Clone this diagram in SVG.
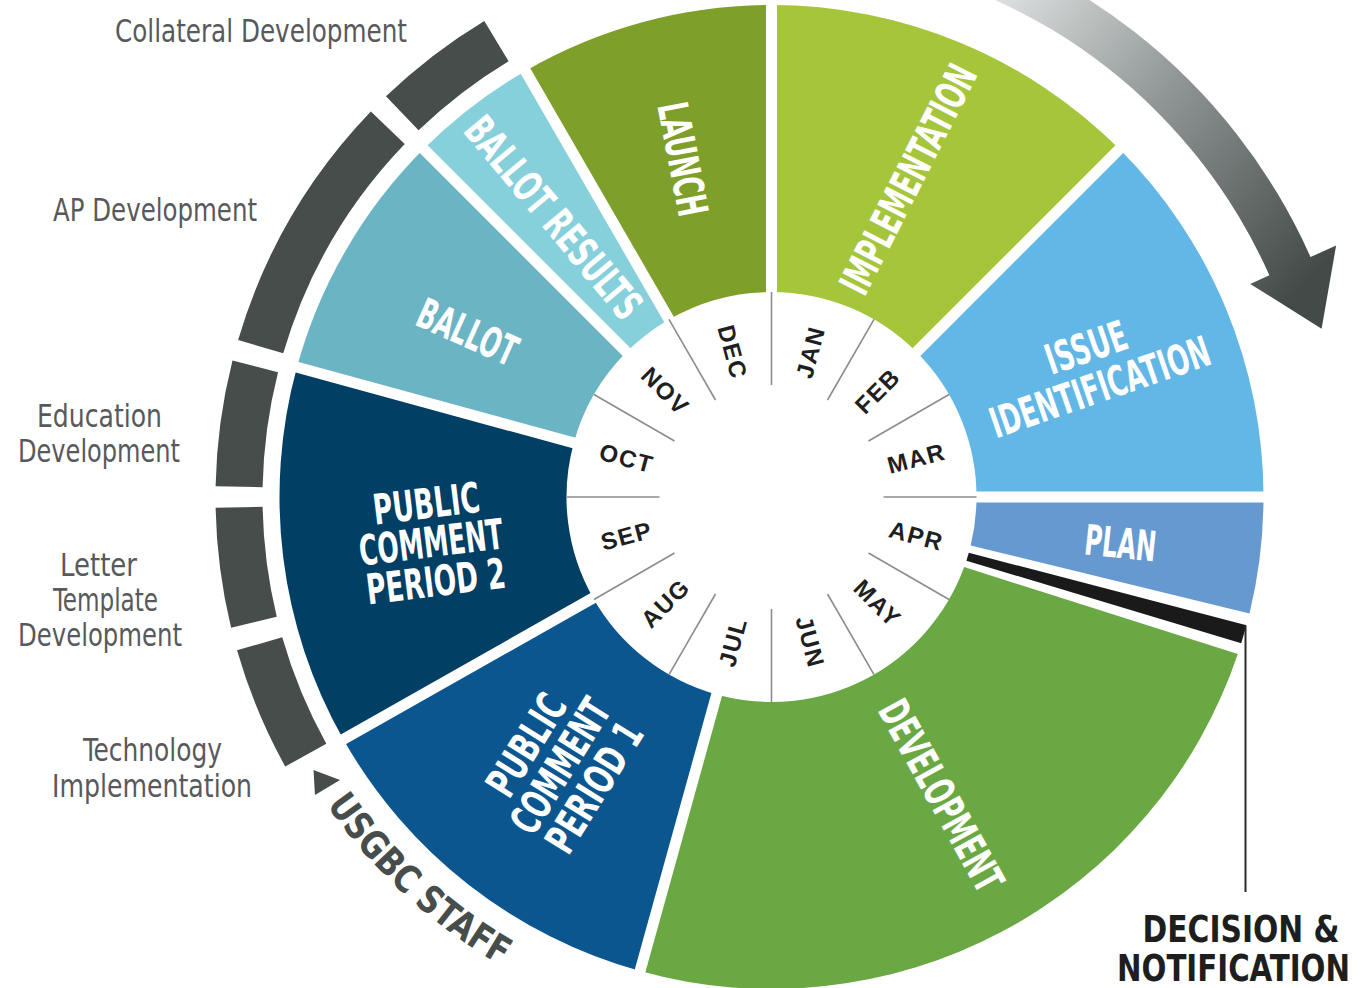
<svg xmlns="http://www.w3.org/2000/svg" width="1362" height="988" viewBox="0 0 1362 988">
<defs>
<linearGradient id="arrowGrad" gradientUnits="userSpaceOnUse" x1="960" y1="-20" x2="1310" y2="280">
<stop offset="0" stop-color="#EEF0F0"/>
<stop offset="0.5" stop-color="#8F9695"/>
<stop offset="1" stop-color="#434A48"/>
</linearGradient>
<path id="staffPath" d="M 322.99,799.52 A 541 541 0 0 0 542.86,987.31" fill="none"/>
</defs>
<style>
.cond{font-family:'Liberation Sans Narrow','DejaVu Sans Condensed','Roboto Condensed','Liberation Sans',Arial,sans-serif;font-stretch:condensed;}
.wl{fill:#fff;font-size:42px;font-weight:bold;text-anchor:middle;}
.side{fill:#58595B;font-size:32px;text-anchor:middle;}
.mon{font-family:'Liberation Sans',Arial,sans-serif;font-weight:bold;font-size:24px;fill:#1F1F1F;text-anchor:middle;dominant-baseline:central;letter-spacing:1.5px;}
.seg{fill:#464D4B;}
.gap{stroke:#fff;stroke-width:11;}
.mline{stroke:#8C8C8C;stroke-width:1.6;}
.dn{font-size:37px;font-weight:bold;fill:#1E1E1E;text-anchor:middle;}
</style>
<rect x="0" y="0" width="1362" height="988" fill="#fff"/>

<!-- cycle arrow -->
<g id="cycle-arrow">
<path d="M 873.95,-84.04 A 590 590 0 0 1 1310.5,257.02 L 1336.1,245.6 L 1321.6,328.7 L 1250.2,283.9 L 1269.38,275.33 A 545 545 0 0 0 866.14,-39.72 Z" fill="url(#arrowGrad)"/>
</g>

<!-- USGBC staff arc -->
<g id="staff">
<g id="staff-collateral">
<path class="seg" d="M 418.56,130.24 L 385.97,96.37 A 556 556 0 0 1 484.31,20.91 L 508.59,61.16 A 509 509 0 0 0 418.56,130.24 Z"/>
<text class="cond side" x="261" y="42" textLength="292" lengthAdjust="spacingAndGlyphs">Collateral Development</text>
</g>
<g id="staff-ap">
<path class="seg" d="M 283.21,353.29 L 238.12,340.02 A 556 556 0 0 1 370.87,111.47 L 404.74,144.06 A 509 509 0 0 0 283.21,353.29 Z"/>
<text class="cond side" x="155" y="221" textLength="204" lengthAdjust="spacingAndGlyphs">AP Development</text>
</g>
<g id="staff-education">
<path class="seg" d="M 262.59,487.23 L 215.6,486.33 A 556 556 0 0 1 232.49,360.61 L 278.05,372.14 A 509 509 0 0 0 262.59,487.23 Z"/>
<text class="cond side" x="99.5" y="427" textLength="125" lengthAdjust="spacingAndGlyphs">Education</text>
<text class="cond side" x="99" y="462" textLength="162" lengthAdjust="spacingAndGlyphs">Development</text>
</g>
<g id="staff-letter">
<path class="seg" d="M 276.77,616.69 L 231.09,627.74 A 556 556 0 0 1 215.6,507.67 L 262.59,506.77 A 509 509 0 0 0 276.77,616.69 Z"/>
<text class="cond side" x="98.5" y="576" textLength="77" lengthAdjust="spacingAndGlyphs">Letter</text>
<text class="cond side" x="105.5" y="611" textLength="105" lengthAdjust="spacingAndGlyphs">Template</text>
<text class="cond side" x="100" y="646" textLength="164" lengthAdjust="spacingAndGlyphs">Development</text>
</g>
<g id="staff-technology">
<path class="seg" d="M 326.32,743.77 L 285.21,766.55 A 556 556 0 0 1 237.04,650.26 L 282.22,637.3 A 509 509 0 0 0 326.32,743.77 Z"/>
<text class="cond side" x="152.5" y="761" textLength="139" lengthAdjust="spacingAndGlyphs">Technology</text>
<text class="cond side" x="152" y="797" textLength="200" lengthAdjust="spacingAndGlyphs">Implementation</text>
</g>
<g id="staff-label">
<polygon points="313.5,770 315,795 340,780" fill="#464D4B"/>
<text class="cond" font-size="38" font-weight="bold" fill="#464D4B"><textPath href="#staffPath" startOffset="6.6" textLength="239" lengthAdjust="spacingAndGlyphs">USGBC STAFF</textPath></text>
</g>
</g>

<!-- phase wedges -->
<g id="wedges">
<g id="implementation">
<path d="M 771.5,292 L 771.5,5 A 492 492 0 0 1 1119.4,149.1 L 916.46,352.04 A 205 205 0 0 0 771.5,292 Z" fill="#A5C53A"/>
</g>
<g id="issue-identification">
<path d="M 916.46,352.04 L 1119.4,149.1 A 492 492 0 0 1 1263.5,497 L 976.5,497 A 205 205 0 0 0 916.46,352.04 Z" fill="#62B7E6"/>
</g>
<g id="plan">
<path d="M 976.5,497 L 1263.5,497 A 492 492 0 0 1 1249.5,613.5 L 970.67,545.55 A 205 205 0 0 0 976.5,497 Z" fill="#6699D0"/>
</g>
<g id="development">
<path d="M 964.14,567.11 L 1237.8,653.9 A 492 492 0 0 1 640.02,971.11 L 716.72,694.54 A 205 205 0 0 0 964.14,567.11 Z" fill="#6AA843"/>
</g>
<g id="public-comment-1">
<path d="M 716.72,694.54 L 640.02,971.11 A 492 492 0 0 1 343.28,739.27 L 593.08,597.95 A 205 205 0 0 0 716.72,694.54 Z" fill="#0B568E"/>
</g>
<g id="public-comment-2">
<path d="M 593.08,597.95 L 343.28,739.27 A 492 492 0 0 1 296.94,367.18 L 573.77,442.91 A 205 205 0 0 0 593.08,597.95 Z" fill="#023F65"/>
</g>
<g id="ballot">
<path d="M 573.77,442.91 L 296.94,367.18 A 492 492 0 0 1 423.6,149.1 L 626.54,352.04 A 205 205 0 0 0 573.77,442.91 Z" fill="#6BB4C4"/>
</g>
<g id="ballot-results">
<path d="M 626.54,352.04 L 423.6,149.1 A 492 492 0 0 1 525.5,70.91 L 669,319.46 A 205 205 0 0 0 626.54,352.04 Z" fill="#86D0DC"/>
</g>
<g id="launch">
<path d="M 669,319.46 L 525.5,70.91 A 492 492 0 0 1 771.5,5 L 771.5,292 A 205 205 0 0 0 669,319.46 Z" fill="#7F9F2B"/>
</g>
<g id="gaps">
<line class="gap" x1="771.5" y1="497" x2="771.5" y2="-8"/>
<line class="gap" x1="771.5" y1="497" x2="1128.6" y2="139.9"/>
<line class="gap" x1="771.5" y1="497" x2="1276.5" y2="497"/>
<line class="gap" x1="771.5" y1="497" x2="636.54" y2="983.63"/>
<line class="gap" x1="771.5" y1="497" x2="331.97" y2="745.67"/>
<line class="gap" x1="771.5" y1="497" x2="284.4" y2="363.75"/>
<line class="gap" x1="771.5" y1="497" x2="414.41" y2="139.91"/>
<line class="gap" x1="771.5" y1="497" x2="519" y2="59.65"/>
</g>
</g>

<!-- decision marker -->
<g id="decision-notification">
<polygon points="968.8,552.8 1246.5,625.2 1241.2,643.3 966.4,560.7" fill="#1A1A1A"/>
<text class="cond dn" x="1241" y="942" textLength="197" lengthAdjust="spacingAndGlyphs">DECISION &amp;</text>
<text class="cond dn" x="1233.5" y="981" textLength="233" lengthAdjust="spacingAndGlyphs">NOTIFICATION</text>
</g>
<g id="connectors">
<line x1="1245.5" y1="626" x2="1245.5" y2="892" stroke="#2A2A2A" stroke-width="2"/>
</g>

<!-- month ring -->
<g id="months">
<g id="month-lines">
<line class="mline" x1="883.5" y1="497" x2="976.5" y2="497"/>
<line class="mline" x1="883.5" y1="497" x2="976.5" y2="497" transform="rotate(30 771.5 497)"/>
<line class="mline" x1="883.5" y1="497" x2="976.5" y2="497" transform="rotate(60 771.5 497)"/>
<line class="mline" x1="883.5" y1="497" x2="976.5" y2="497" transform="rotate(90 771.5 497)"/>
<line class="mline" x1="883.5" y1="497" x2="976.5" y2="497" transform="rotate(120 771.5 497)"/>
<line class="mline" x1="883.5" y1="497" x2="976.5" y2="497" transform="rotate(150 771.5 497)"/>
<line class="mline" x1="883.5" y1="497" x2="976.5" y2="497" transform="rotate(180 771.5 497)"/>
<line class="mline" x1="883.5" y1="497" x2="976.5" y2="497" transform="rotate(210 771.5 497)"/>
<line class="mline" x1="883.5" y1="497" x2="976.5" y2="497" transform="rotate(240 771.5 497)"/>
<line class="mline" x1="883.5" y1="497" x2="976.5" y2="497" transform="rotate(270 771.5 497)"/>
<line class="mline" x1="883.5" y1="497" x2="976.5" y2="497" transform="rotate(300 771.5 497)"/>
<line class="mline" x1="883.5" y1="497" x2="976.5" y2="497" transform="rotate(330 771.5 497)"/>
</g>
<g id="jan"><text class="mon" transform="translate(810.3,352.1) rotate(-75)">JAN</text></g>
<g id="feb"><text class="mon" transform="translate(877.6,390.9) rotate(-45)">FEB</text></g>
<g id="mar"><text class="mon" transform="translate(916.4,458.2) rotate(-15)">MAR</text></g>
<g id="apr"><text class="mon" transform="translate(916.4,535.8) rotate(15)">APR</text></g>
<g id="may"><text class="mon" transform="translate(877.6,603.1) rotate(45)">MAY</text></g>
<g id="jun"><text class="mon" transform="translate(810.3,641.9) rotate(75)">JUN</text></g>
<g id="jul"><text class="mon" transform="translate(732.7,641.9) rotate(-75)">JUL</text></g>
<g id="aug"><text class="mon" transform="translate(665.4,603.1) rotate(-45)">AUG</text></g>
<g id="sep"><text class="mon" transform="translate(626.6,535.8) rotate(-15)">SEP</text></g>
<g id="oct"><text class="mon" transform="translate(626.6,458.2) rotate(15)">OCT</text></g>
<g id="nov"><text class="mon" transform="translate(665.4,390.9) rotate(45)">NOV</text></g>
<g id="dec"><text class="mon" transform="translate(732.7,352.1) rotate(75)">DEC</text></g>
</g>

<!-- wedge labels -->
<g id="wedge-labels">
<text class="cond wl" transform="translate(908,179) rotate(-63)" y="15" textLength="251" lengthAdjust="spacingAndGlyphs">IMPLEMENTATION</text>
<g transform="translate(1093,367) rotate(-19)">
<text class="cond wl" y="-6" textLength="84" lengthAdjust="spacingAndGlyphs">ISSUE</text>
<text class="cond wl" y="36" textLength="230" lengthAdjust="spacingAndGlyphs">IDENTIFICATION</text>
</g>
<text class="cond wl" transform="translate(1120.5,543) rotate(6)" y="15" textLength="72" lengthAdjust="spacingAndGlyphs">PLAN</text>
<text class="cond wl" transform="translate(941.5,795.5) rotate(61)" y="15" textLength="212" lengthAdjust="spacingAndGlyphs">DEVELOPMENT</text>
<g transform="translate(560,766) rotate(-58)">
<text class="cond wl" y="-25" textLength="112" lengthAdjust="spacingAndGlyphs">PUBLIC</text>
<text class="cond wl" y="15" textLength="150" lengthAdjust="spacingAndGlyphs">COMMENT</text>
<text class="cond wl" y="55" textLength="145" lengthAdjust="spacingAndGlyphs">PERIOD 1</text>
</g>
<g transform="translate(431,541.5) rotate(-7)">
<text class="cond wl" y="-23.5" textLength="107" lengthAdjust="spacingAndGlyphs">PUBLIC</text>
<text class="cond wl" y="15.5" textLength="145" lengthAdjust="spacingAndGlyphs">COMMENT</text>
<text class="cond wl" y="55" textLength="140" lengthAdjust="spacingAndGlyphs">PERIOD 2</text>
</g>
<text class="cond wl" transform="translate(467.5,332) rotate(24)" y="15" textLength="105" lengthAdjust="spacingAndGlyphs">BALLOT</text>
<text class="cond wl" transform="translate(553,218) rotate(50)" y="14" textLength="250" lengthAdjust="spacingAndGlyphs">BALLOT RESULTS</text>
<text class="cond wl" transform="translate(683,159) rotate(79)" y="15" textLength="115" lengthAdjust="spacingAndGlyphs">LAUNCH</text>
</g>
</svg>
